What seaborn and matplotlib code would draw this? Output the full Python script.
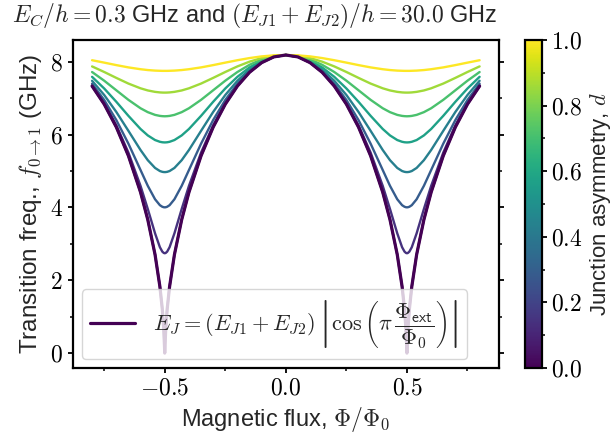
import matplotlib
matplotlib.use("Agg")
import matplotlib.pyplot as plt
import seaborn as sns
import pandas as pd
from matplotlib.ticker import MultipleLocator, FormatStrFormatter
from matplotlib.colors import Normalize
from matplotlib.cm import ScalarMappable

# Magnetic flux from 0 to 0.8 (the negative side is the mirror image)
flux_half = [0.0, 0.05, 0.1, 0.15, 0.2, 0.25, 0.3, 0.35, 0.4, 0.43, 0.46, 0.48, 0.49,
             0.496, 0.499, 0.5, 0.501, 0.504, 0.51, 0.52, 0.54, 0.57, 0.6, 0.65, 0.7, 0.75, 0.8]

# junction asymmetry of each curve
asymmetry = [0.0, 0.129, 0.257, 0.386, 0.514, 0.643, 0.771, 0.9]

# transition frequencies (GHz), same order as flux_half
freq_d0 = [8.185, 8.133, 7.975, 7.710, 7.332, 6.835, 6.205, 5.417, 4.417, 3.663, 2.704, 1.826, 1.204,
           0.651, 0.176, 0.0, 0.176, 0.651, 1.204, 1.826, 2.704, 3.663, 4.417, 5.417, 6.205, 6.835, 7.332]
freq_d1 = [8.185, 8.134, 7.979, 7.718, 7.349, 6.865, 6.256, 5.506, 4.592, 3.957, 3.288, 2.907, 2.786,
           2.750, 2.743, 2.743, 2.743, 2.750, 2.786, 2.907, 3.288, 3.957, 4.592, 5.506, 6.256, 6.865, 7.349]
freq_d2 = [8.185, 8.136, 7.989, 7.744, 7.398, 6.950, 6.400, 5.751, 5.027, 4.593, 4.224, 4.061, 4.018,
           4.005, 4.003, 4.003, 4.003, 4.005, 4.018, 4.061, 4.224, 4.593, 5.027, 5.751, 6.400, 6.950, 7.398]
freq_d3 = [8.185, 8.141, 8.007, 7.786, 7.478, 7.087, 6.622, 6.103, 5.577, 5.297, 5.084, 4.999, 4.977,
           4.971, 4.970, 4.970, 4.970, 4.971, 4.977, 4.999, 5.084, 5.297, 5.577, 6.103, 6.622, 7.087, 7.478]
freq_d4 = [8.185, 8.147, 8.032, 7.844, 7.586, 7.266, 6.901, 6.515, 6.154, 5.977, 5.850, 5.802, 5.789,
           5.786, 5.785, 5.785, 5.785, 5.786, 5.789, 5.802, 5.850, 5.977, 6.154, 6.515, 6.901, 7.266, 7.586]
freq_d5 = [8.185, 8.155, 8.064, 7.916, 7.718, 7.480, 7.217, 6.954, 6.723, 6.616, 6.541, 6.513, 6.506,
           6.504, 6.503, 6.503, 6.503, 6.504, 6.506, 6.513, 6.541, 6.616, 6.723, 6.954, 7.217, 7.480, 7.718]
freq_d6 = [8.185, 8.164, 8.102, 8.002, 7.872, 7.719, 7.557, 7.401, 7.271, 7.212, 7.173, 7.158, 7.154,
           7.153, 7.153, 7.153, 7.153, 7.153, 7.154, 7.158, 7.173, 7.212, 7.271, 7.401, 7.557, 7.719, 7.872]
freq_d7 = [8.185, 8.175, 8.147, 8.101, 8.042, 7.976, 7.908, 7.845, 7.795, 7.772, 7.757, 7.752, 7.750,
           7.750, 7.750, 7.750, 7.750, 7.750, 7.750, 7.752, 7.757, 7.772, 7.795, 7.845, 7.908, 7.976, 8.042]

curves = [freq_d0, freq_d1, freq_d2, freq_d3, freq_d4, freq_d5, freq_d6, freq_d7]

# full flux axis -0.8 .. 0.8
flux_full = [-p for p in flux_half[::-1]] + flux_half[1:]

rows = []
for d, f in zip(asymmetry, curves):
    f_full = f[::-1] + f[1:]
    for p, v in zip(flux_full, f_full):
        rows.append({"flux": p, "freq": v, "d": d})
df = pd.DataFrame(rows)

sns.set_style("ticks")
plt.rcParams["font.family"] = ["Liberation Sans", "DejaVu Sans"]
plt.rcParams["mathtext.fontset"] = "cm"
plt.rcParams["axes.linewidth"] = 1.6
plt.rcParams["xtick.major.width"] = 1.3
plt.rcParams["ytick.major.width"] = 1.3
plt.rcParams["xtick.minor.width"] = 1.1
plt.rcParams["ytick.minor.width"] = 1.1
plt.rcParams["xtick.color"] = "black"
plt.rcParams["ytick.color"] = "black"
plt.rcParams["axes.edgecolor"] = "black"

fig = plt.figure(figsize=(6.13, 4.36), dpi=100)
ax = fig.add_axes([0.1186, 0.156, 0.6954, 0.752])
cax = fig.add_axes([0.8564, 0.156, 0.0272, 0.752])

sns.lineplot(data=df, x="flux", y="freq", hue="d", palette="viridis", hue_norm=(0, 0.9),
             legend=False, lw=1.7, estimator=None, ax=ax)

# d = 0 curve drawn again on top, with the legend label
d0_full = freq_d0[::-1] + freq_d0[1:]
sns.lineplot(x=flux_full, y=d0_full, color=plt.cm.viridis(0.0), lw=2.3, estimator=None, ax=ax,
             label=r"$E_J = (E_{J1} + E_{J2})\,\left|\cos\left(\pi\,\dfrac{\Phi_\mathsf{ext}}{\Phi_0}\right)\right|$")

ax.legend(loc="lower left", fontsize=16, handlelength=2.0, borderaxespad=0.4)

ax.set_xlabel(r"Magnetic flux, $\Phi/\Phi_0$", fontsize=17)
ax.set_ylabel(r"Transition freq., $f_{0\rightarrow1}$ (GHz)", fontsize=17.5)

ax.xaxis.set_major_locator(MultipleLocator(0.5))
ax.xaxis.set_minor_locator(MultipleLocator(0.25))
ax.yaxis.set_major_locator(MultipleLocator(2))
ax.yaxis.set_minor_locator(MultipleLocator(1))
ax.xaxis.set_major_formatter(FormatStrFormatter(r"$%.1f$"))
ax.yaxis.set_major_formatter(FormatStrFormatter(r"$%d$"))
ax.tick_params(axis="both", which="major", labelsize=17)
ax.tick_params(axis="y", which="both", right=True)

# colorbar for the asymmetry
sm = ScalarMappable(norm=Normalize(0, 1), cmap="viridis")
cbar = fig.colorbar(sm, cax=cax)
cbar.outline.set_linewidth(1.6)
cbar.ax.yaxis.set_major_locator(MultipleLocator(0.2))
cbar.ax.yaxis.set_minor_locator(MultipleLocator(0.1))
cbar.ax.yaxis.set_major_formatter(FormatStrFormatter(r"$%.1f$"))
cbar.ax.tick_params(which="major", labelsize=17, width=1.3)
cbar.ax.tick_params(which="minor", width=1.1)
cbar.set_label(r"Junction asymmetry, $d$", fontsize=16)

fig.text(12 / 613, 1 - 16 / 436,
         r"$E_C/h = 0.3$ GHz and $(E_{J1} + E_{J2})/h = 30.0$ GHz",
         fontsize=17, ha="left", va="center")

fig.savefig("out.png", dpi=100)
